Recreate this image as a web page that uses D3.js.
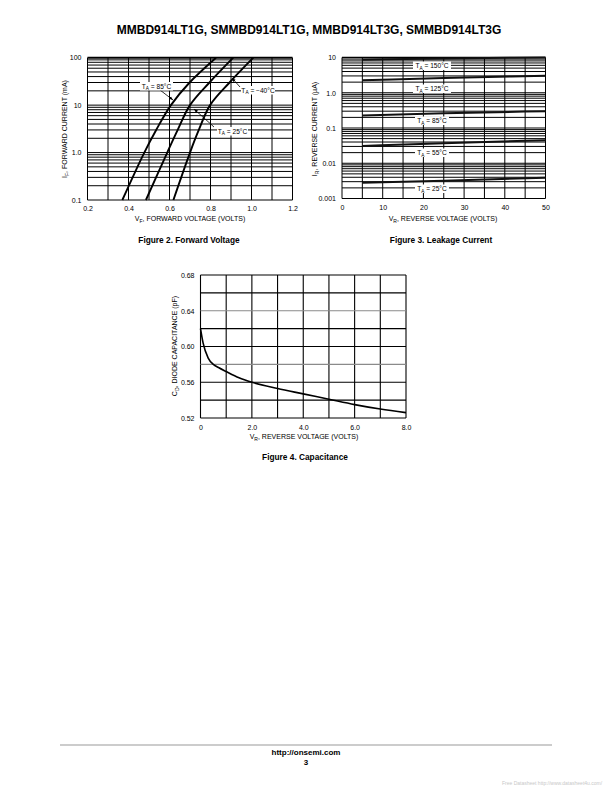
<!DOCTYPE html>
<html><head><meta charset="utf-8">
<script src="https://cdn.jsdelivr.net/npm/d3@7"></script>
<style>
body{margin:0;background:#fff}
svg{display:block}
.tk text{font-family:"Liberation Sans Narrow","Arial Narrow","Liberation Sans",sans-serif;font-size:7px;fill:#000}
.nar{font-family:"Liberation Sans Narrow","Arial Narrow","Liberation Sans",sans-serif;font-size:7px;fill:#000}
.cap{font-family:"Liberation Sans",Arial,sans-serif;font-weight:bold;font-size:8.3px;fill:#000}
</style>
</head><body>
<script>
// ---------- DATA ----------
// Figure 2: forward voltage (V) at given forward currents (mA)
const fwdCurrents = [0.1, 1, 3, 10, 30, 100];
const fwdV85  = [0.370, 0.477, 0.535, 0.607, 0.698, 0.827];
const fwdV25  = [0.485, 0.589, 0.640, 0.700, 0.795, 0.911];
const fwdVm40 = [0.619, 0.700, 0.743, 0.798, 0.893, 1.009];
const fwdXTicks = [0.2, 0.4, 0.6, 0.8, 1.0, 1.2];
const fwdXTickLabels = ["0.2", "0.4", "0.6", "0.8", "1.0", "1.2"];
const fwdYTicks = [0.1, 1, 10, 100];
const fwdYTickLabels = ["0.1", "1.0", "10", "100"];

// Figure 3: reverse current (uA) vs reverse voltage (V)
const revVoltages = [5, 25, 50];
const rev150 = [8.7, 9.4, 10.0];
const rev125 = [2.27, 2.6, 3.05];
const rev85  = [0.226, 0.26, 0.30];
const rev55  = [0.031, 0.037, 0.045];
const rev25  = [0.0028, 0.0032, 0.0039];
const revTemps = ["150", "125", "85", "55", "25"];
const revXTicks = [0, 10, 20, 30, 40, 50];
const revXTickLabels = ["0", "10", "20", "30", "40", "50"];
const revYTicks = [0.001, 0.01, 0.1, 1, 10];
const revYTickLabels = ["0.001", "0.01", "0.1", "1.0", "10"];

// Figure 4: capacitance (pF) vs reverse voltage (V)
const capVoltages = [0, 0.1, 0.3, 0.5, 0.7, 1, 1.5, 2, 3, 4, 5, 6, 7, 8];
const capValues   = [0.620, 0.604, 0.587, 0.580, 0.5765, 0.572, 0.565, 0.560, 0.553, 0.547, 0.541, 0.535, 0.530, 0.526];
const capXTicks = [0, 2, 4, 6, 8];
const capXTickLabels = ["0", "2.0", "4.0", "6.0", "8.0"];
const capYTicks = [0.52, 0.56, 0.60, 0.64, 0.68];
const capYTickLabels = ["0.52", "0.56", "0.60", "0.64", "0.68"];

// ---------- DRAW ----------
const svg = d3.select("body").append("svg").attr("width", 612).attr("height", 792);

// Title
svg.append("text").attr("x", 309).attr("y", 34).attr("text-anchor", "middle")
  .attr("font-family", '"Liberation Sans",Arial,sans-serif').attr("font-weight", "bold")
  .attr("font-size", 12).text("MMBD914LT1G, SMMBD914LT1G, MMBD914LT3G, SMMBD914LT3G");

function subText(g, x, y, parts, opts = {}) {
  const t = g.append("text").attr("x", x).attr("y", y).attr("class", "nar")
    .attr("text-anchor", opts.anchor || "middle");
  if (opts.size) t.style("font-size", opts.size + "px");
  if (opts.rotate) t.attr("transform", `rotate(-90,${x},${y})`);
  const fs = opts.size || 7;
  t.append("tspan").text(parts[0]);
  t.append("tspan").attr("dy", fs * 0.25).style("font-size", (fs * 0.72) + "px").text(parts[1]);
  t.append("tspan").attr("dy", -fs * 0.25).text(parts[2]);
  return t;
}

function logGridValues(lo, hi) {
  const v = [];
  for (let e = Math.log10(lo); e < Math.log10(hi); e++)
    for (let m = 1; m <= 9; m++) v.push(m * Math.pow(10, e));
  v.push(hi);
  return v;
}

function labelBox(g, x, y, parts, w) {
  g.append("rect").attr("x", x - w / 2).attr("y", y - 6.5).attr("width", w).attr("height", 8.5).attr("fill", "#fff");
  subText(g, x, y, parts, {size: 6.6});
}

// ===== Figure 2 =====
{
  const g = svg.append("g");
  const x = d3.scaleLinear().domain([0.2, 1.2]).range([87.5, 292.5]);
  const y = d3.scaleLog().domain([0.1, 100]).range([200, 57.7]);
  const vGrid = d3.range(0, 11).map(i => 0.2 + i * 0.1);
  g.selectAll(".vg").data(vGrid).join("line")
    .attr("x1", d => x(d)).attr("x2", d => x(d)).attr("y1", y(100)).attr("y2", y(0.1))
    .attr("stroke", "#000").attr("stroke-width", 1);
  g.selectAll(".hg").data(logGridValues(0.1, 100)).join("line")
    .attr("x1", x(0.2)).attr("x2", x(1.2)).attr("y1", d => y(d)).attr("y2", d => y(d))
    .attr("stroke", "#000").attr("stroke-width", d => (d === 100 ? 2 : 1));

  const line = d3.line().x(d => x(d[0])).y(d => y(d[1])).curve(d3.curveCatmullRom.alpha(0.5));
  [fwdV85, fwdV25, fwdVm40].forEach(vs => {
    g.append("path").datum(vs.map((v, i) => [v, fwdCurrents[i]]))
      .attr("d", line).attr("fill", "none").attr("stroke", "#000").attr("stroke-width", 1.9);
  });

  const defs = svg.append("defs");
  defs.append("marker").attr("id", "ah").attr("viewBox", "0 0 10 10").attr("refX", 10).attr("refY", 5)
    .attr("markerWidth", 5).attr("markerHeight", 5).attr("orient", "auto")
    .append("path").attr("d", "M0,1 L10,5 L0,9 z").attr("fill", "#000");
  const arrow = (x1, y1, x2, y2) => g.append("line").attr("x1", x1).attr("y1", y1).attr("x2", x2).attr("y2", y2)
    .attr("stroke", "#000").attr("stroke-width", 0.8).attr("marker-end", "url(#ah)");
  arrow(160, 90, 173, 100);
  arrow(214, 127, 194, 109);
  arrow(240, 87, 232, 78);
  labelBox(g, 156.5, 88.5, ["T", "A", " = 85°C"], 33);
  labelBox(g, 232.5, 133.5, ["T", "A", " = 25°C"], 31);
  labelBox(g, 258, 92.5, ["T", "A", " = −40°C"], 34);

  const ax = g.append("g").attr("class", "tk").attr("transform", `translate(0,${y(0.1) + 3})`)
    .call(d3.axisBottom(x).tickValues(fwdXTicks).tickSize(0).tickFormat((d, i) => fwdXTickLabels[i]));
  ax.select(".domain").remove();
  ax.selectAll("text").attr("dy", "0.71em");
  const ay = g.append("g").attr("class", "tk").attr("transform", `translate(${x(0.2) - 3},0)`)
    .call(d3.axisLeft(y).tickValues(fwdYTicks).tickSize(0).tickFormat((d, i) => fwdYTickLabels[i]));
  ay.select(".domain").remove();

  subText(g, 190, 221, ["V", "F", ", FORWARD VOLTAGE (VOLTS)"]);
  subText(g, 67, 129, ["I", "F", ", FORWARD CURRENT (mA)"], {rotate: true});
  svg.append("text").attr("class", "cap").attr("x", 189).attr("y", 243).attr("text-anchor", "middle").text("Figure 2. Forward Voltage");
}

// ===== Figure 3 =====
{
  const g = svg.append("g");
  const x = d3.scaleLinear().domain([0, 50]).range([342, 545.5]);
  const y = d3.scaleLog().domain([0.001, 10]).range([198.5, 57.5]);
  g.selectAll(".vg").data(d3.range(0, 51, 5)).join("line")
    .attr("x1", d => x(d)).attr("x2", d => x(d)).attr("y1", y(10)).attr("y2", y(0.001))
    .attr("stroke", "#000").attr("stroke-width", 1);
  g.selectAll(".hg").data(logGridValues(0.001, 10)).join("line")
    .attr("x1", x(0)).attr("x2", x(50)).attr("y1", d => y(d)).attr("y2", d => y(d))
    .attr("stroke", "#000").attr("stroke-width", d => (d === 10 ? 1.6 : 1));

  const line = d3.line().x(d => x(d[0])).y(d => y(d[1])).curve(d3.curveMonotoneX);
  const series = [rev150, rev125, rev85, rev55, rev25];
  series.forEach(vs => {
    g.append("path").datum(vs.map((v, i) => [revVoltages[i], v]))
      .attr("d", line).attr("fill", "none").attr("stroke", "#111").attr("stroke-width", 2);
  });
  const labY = [68, 91, 123, 155, 191];
  revTemps.forEach((t, i) => labelBox(g, 432, labY[i], ["T", "A", ` = ${t}°C`], t.length > 2 ? 38 : 34));

  const ax = g.append("g").attr("class", "tk").attr("transform", `translate(0,${y(0.001) + 4})`)
    .call(d3.axisBottom(x).tickValues(revXTicks).tickSize(0).tickFormat((d, i) => revXTickLabels[i]));
  ax.select(".domain").remove();
  ax.selectAll("text").attr("dy", "0.71em");
  const ay = g.append("g").attr("class", "tk").attr("transform", `translate(${x(0) - 3},0)`)
    .call(d3.axisLeft(y).tickValues(revYTicks).tickSize(0).tickFormat((d, i) => revYTickLabels[i]));
  ay.select(".domain").remove();

  subText(g, 443, 221, ["V", "R", ", REVERSE VOLTAGE (VOLTS)"]);
  subText(g, 317, 129, ["I", "R", ", REVERSE CURRENT (µA)"], {rotate: true});
  svg.append("text").attr("class", "cap").attr("x", 441).attr("y", 243).attr("text-anchor", "middle").text("Figure 3. Leakage Current");
}

// ===== Figure 4 =====
{
  const g = svg.append("g");
  const x = d3.scaleLinear().domain([0, 8]).range([200.5, 406]);
  const y = d3.scaleLinear().domain([0.52, 0.68]).range([418, 275]);
  g.selectAll(".vg").data(d3.range(0, 9)).join("line")
    .attr("x1", d => x(d)).attr("x2", d => x(d)).attr("y1", y(0.68)).attr("y2", y(0.52))
    .attr("stroke", "#000").attr("stroke-width", 1.1);
  const hv = d3.range(0, 9).map(i => +(0.52 + i * 0.02).toFixed(2));
  g.selectAll(".hg").data(hv).join("line")
    .attr("x1", x(0)).attr("x2", x(8)).attr("y1", d => y(d)).attr("y2", d => y(d))
    .attr("stroke", d => (d === 0.64 || d === 0.58) ? "#8a8a8a" : "#000").attr("stroke-width", 1.1);

  const line = d3.line().x(d => x(d[0])).y(d => y(d[1])).curve(d3.curveMonotoneX);
  g.append("path").datum(capVoltages.map((v, i) => [v, capValues[i]]))
    .attr("d", line).attr("fill", "none").attr("stroke", "#000").attr("stroke-width", 1.6);

  const ax = g.append("g").attr("class", "tk").attr("transform", `translate(0,${y(0.52) + 4})`)
    .call(d3.axisBottom(x).tickValues(capXTicks).tickSize(0).tickFormat((d, i) => capXTickLabels[i]));
  ax.select(".domain").remove();
  ax.selectAll("text").attr("dy", "0.71em");
  const ay = g.append("g").attr("class", "tk").attr("transform", `translate(${x(0) - 3},0)`)
    .call(d3.axisLeft(y).tickValues(capYTicks).tickSize(0).tickFormat((d, i) => capYTickLabels[i]));
  ay.select(".domain").remove();

  subText(g, 304, 439, ["V", "R", ", REVERSE VOLTAGE (VOLTS)"]);
  subText(g, 177, 346, ["C", "D", ", DIODE CAPACITANCE (pF)"], {rotate: true});
  svg.append("text").attr("class", "cap").attr("x", 305).attr("y", 460).attr("text-anchor", "middle").text("Figure 4. Capacitance");
}

// Footer
svg.append("line").attr("x1", 60).attr("x2", 552).attr("y1", 745).attr("y2", 745).attr("stroke", "#999").attr("stroke-width", 1);
svg.append("text").attr("x", 306).attr("y", 755).attr("text-anchor", "middle")
  .attr("font-family", '"Liberation Sans",Arial,sans-serif').attr("font-weight", "bold").attr("font-size", 8).text("http://onsemi.com");
svg.append("text").attr("x", 306).attr("y", 765).attr("text-anchor", "middle")
  .attr("font-family", '"Liberation Sans",Arial,sans-serif').attr("font-weight", "bold").attr("font-size", 8).text("3");
svg.append("text").attr("x", 502).attr("y", 785)
  .attr("font-family", '"Liberation Sans",Arial,sans-serif').attr("font-size", 5).attr("fill", "#c8c8c8")
  .text("Free Datasheet http://www.datasheet4u.com/");
</script>
</body></html>
